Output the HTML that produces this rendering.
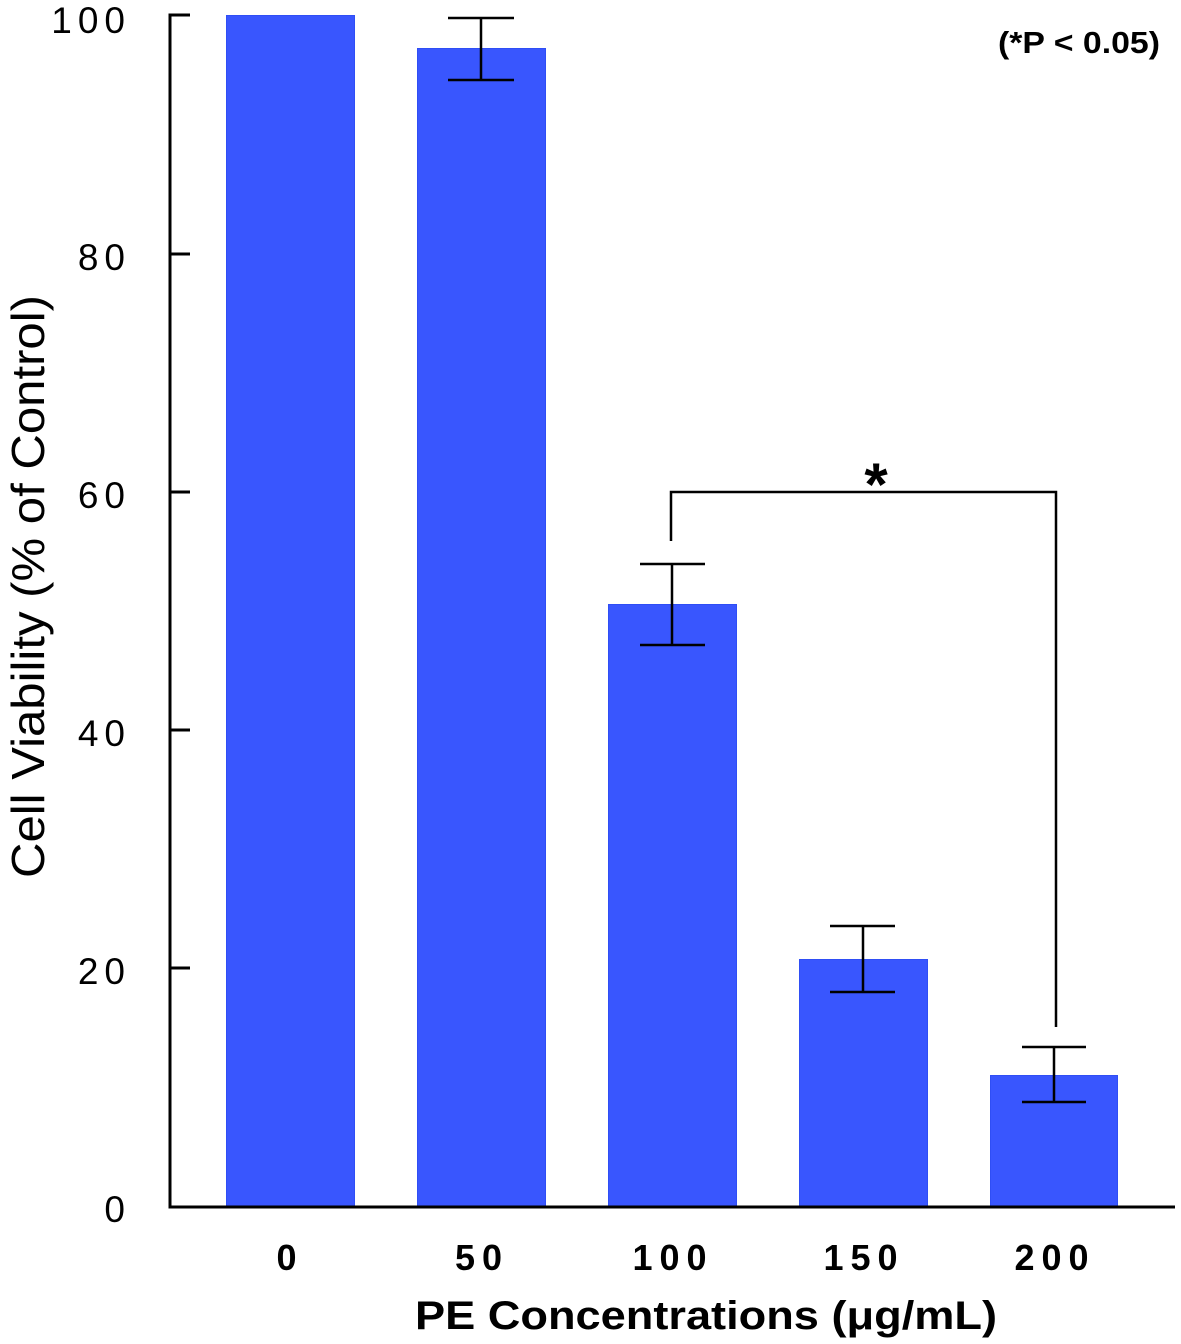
<!DOCTYPE html>
<html><head><style>
body{margin:0;background:#fff;}
svg{display:block;}
text{font-family:"Liberation Sans",Arial,sans-serif;fill:#000;}
</style></head><body>
<svg width="1181" height="1344" viewBox="0 0 1181 1344" xmlns="http://www.w3.org/2000/svg">
<g fill="#3956fe" stroke="#2f4ef5" stroke-width="1">
<rect x="226.5" y="15.5" width="128" height="1191"/>
<rect x="417.5" y="48.5" width="128" height="1158"/>
<rect x="608.5" y="604.5" width="128" height="602"/>
<rect x="799.5" y="959.5" width="128" height="247"/>
<rect x="990.5" y="1075.5" width="127" height="131"/>
</g>
<g stroke="#000" stroke-width="3" fill="none">
<path d="M190 15 H170 V1207 H1175"/>
<path d="M170 254 H190 M170 492 H190 M170 730 H190 M170 968 H190"/>
</g>
<g stroke="#000" stroke-width="2.5" fill="none">
<path d="M448 18 H514 M481 18 V80 M448 80 H514"/>
<path d="M640 564 H705 M672 564 V645 M640 645 H705"/>
<path d="M830 926 H895 M863 926 V992 M830 992 H895"/>
<path d="M1022 1047 H1086 M1054 1047 V1102 M1022 1102 H1086"/>
<path d="M671 541 V492 H1056 V1027"/>
</g>
<text x="876" y="505" font-size="60" font-weight="bold" text-anchor="middle">*</text>
<g font-size="37" text-anchor="end" letter-spacing="6">
<text x="131" y="33">100</text>
<text x="131" y="270">80</text>
<text x="131" y="508">60</text>
<text x="131" y="746">40</text>
<text x="131" y="984">20</text>
<text x="131" y="1222">0</text>
</g>
<g font-size="36" font-weight="bold" text-anchor="middle" letter-spacing="7">
<text x="290" y="1270">0</text>
<text x="482" y="1270">50</text>
<text x="673" y="1270">100</text>
<text x="864" y="1270">150</text>
<text x="1055" y="1270">200</text>
</g>
<text x="415" y="1329" font-size="40" font-weight="bold" textLength="582" lengthAdjust="spacingAndGlyphs">PE Concentrations (μg/mL)</text>
<text transform="translate(44,878) rotate(-90)" font-size="46" textLength="583" lengthAdjust="spacingAndGlyphs">Cell Viability (% of Control)</text>
<text x="998" y="53" font-size="31" font-weight="bold" textLength="162" lengthAdjust="spacingAndGlyphs">(*P &lt; 0.05)</text>
</svg>
</body></html>
